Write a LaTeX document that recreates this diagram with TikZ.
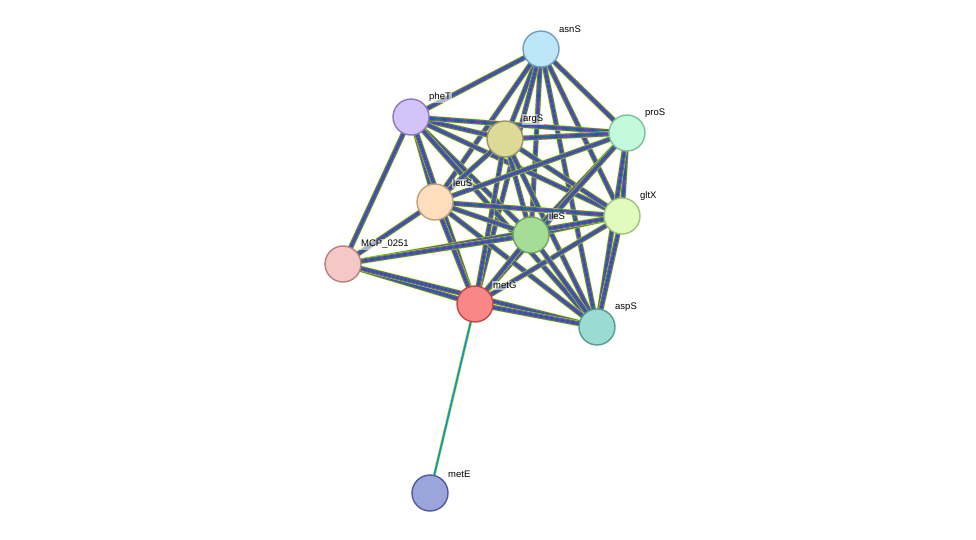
\documentclass[tikz,border=0pt]{standalone}
\usepackage{fontspec}
\setmainfont{Liberation Sans}
\usetikzlibrary{positioning}
\tikzset{prot/.style = {draw, circle, line width=1.4pt, minimum size=36pt, inner sep=0pt}}
\tikzset{lbl/.style = {font=\fontsize{9.5}{10}\selectfont, anchor=south west, inner sep=1pt, fill=white, fill opacity=0.55, text opacity=1}}
\begin{document}
\begin{tikzpicture}[x=1pt, y=-1pt]
  \useasboundingbox (0,0) rectangle (976,539);
  % layout of the proteins
  \coordinate (asnS) at (541,49);
  \coordinate (pheT) at (411,117);
  \coordinate (argS) at (505,139);
  \coordinate (proS) at (627,133);
  \coordinate (leuS) at (435,202);
  \coordinate (gltX) at (622,216);
  \coordinate (ileS) at (531,235);
  \coordinate (MCP) at (343,264);
  \coordinate (metG) at (475,304);
  \coordinate (aspS) at (597,327);
  \coordinate (metE) at (430,493);

  \foreach \i/\o in
  {asnS/pheT, asnS/argS, asnS/proS, asnS/leuS, asnS/gltX, asnS/ileS, asnS/metG, asnS/aspS,
   pheT/argS, pheT/proS, pheT/leuS, pheT/gltX, pheT/ileS, pheT/MCP, pheT/metG, pheT/aspS,
   argS/proS, argS/leuS, argS/gltX, argS/ileS, argS/metG, argS/aspS,
   proS/leuS, proS/gltX, proS/ileS, proS/metG, proS/aspS,
   leuS/gltX, leuS/ileS, leuS/MCP, leuS/metG, leuS/aspS,
   gltX/ileS, gltX/MCP, gltX/metG, gltX/aspS,
   ileS/MCP, ileS/metG, ileS/aspS,
   MCP/metG, MCP/aspS, metG/aspS}
  {
    \foreach \w/\c in {5.6/yellow!70!green!90!white, 4.6/green!65!black, 3.6/magenta!80, 2.6/blue!80, 1.6/cyan!60!blue, 0.6/black!70}
      \draw[line width=\w pt, \c] (\i) -- (\o);
  }
  \foreach \w/\c in {3/yellow!80!green, 1.8/cyan!80!blue}
    \draw[line width=\w pt, \c] (metG) -- (metE);

  \node[prot, fill={rgb,255:red,190;green,230;blue,250}, draw={rgb,255:red,110;green,160;blue,190}] (n-asnS) at (asnS) {};
  \node[prot, fill={rgb,255:red,210;green,195;blue,250}, draw={rgb,255:red,140;green,120;blue,190}] (n-pheT) at (pheT) {};
  \node[prot, fill={rgb,255:red,220;green,218;blue,150}, draw={rgb,255:red,150;green,150;blue,100}] (n-argS) at (argS) {};
  \node[prot, fill={rgb,255:red,195;green,250;blue,220}, draw={rgb,255:red,120;green,195;blue,150}] (n-proS) at (proS) {};
  \node[prot, fill={rgb,255:red,255;green,222;blue,190}, draw={rgb,255:red,190;green,160;blue,120}] (n-leuS) at (leuS) {};
  \node[prot, fill={rgb,255:red,225;green,250;blue,190}, draw={rgb,255:red,160;green,195;blue,120}] (n-gltX) at (gltX) {};
  \node[prot, fill={rgb,255:red,165;green,220;blue,150}, draw={rgb,255:red,110;green,165;blue,100}] (n-ileS) at (ileS) {};
  \node[prot, fill={rgb,255:red,245;green,200;blue,200}, draw={rgb,255:red,185;green,125;blue,125}] (n-MCP) at (MCP) {};
  \node[prot, fill={rgb,255:red,250;green,135;blue,135}, draw={rgb,255:red,190;green,70;blue,70}] (n-metG) at (metG) {};
  \node[prot, fill={rgb,255:red,155;green,220;blue,210}, draw={rgb,255:red,85;green,155;blue,145}] (n-aspS) at (aspS) {};
  \node[prot, fill={rgb,255:red,155;green,165;blue,220}, draw={rgb,255:red,80;green,90;blue,155}] (n-metE) at (metE) {};

  \node[lbl] at ([shift={(17,-15)}]asnS) {asnS};
  \node[lbl] at ([shift={(17,-14)}]pheT) {pheT};
  \node[lbl] at ([shift={(17,-14)}]argS) {argS};
  \node[lbl] at ([shift={(17,-14)}]proS) {proS};
  \node[lbl] at ([shift={(17,-14)}]leuS) {leuS};
  \node[lbl] at ([shift={(17,-14)}]gltX) {gltX};
  \node[lbl] at ([shift={(17,-14)}]ileS) {ileS};
  \node[lbl] at ([shift={(17,-14)}]MCP) {MCP\_0251};
  \node[lbl] at ([shift={(17,-14)}]metG) {metG};
  \node[lbl] at ([shift={(17,-14)}]aspS) {aspS};
  \node[lbl] at ([shift={(17,-14)}]metE) {metE};
\end{tikzpicture}
\end{document}
